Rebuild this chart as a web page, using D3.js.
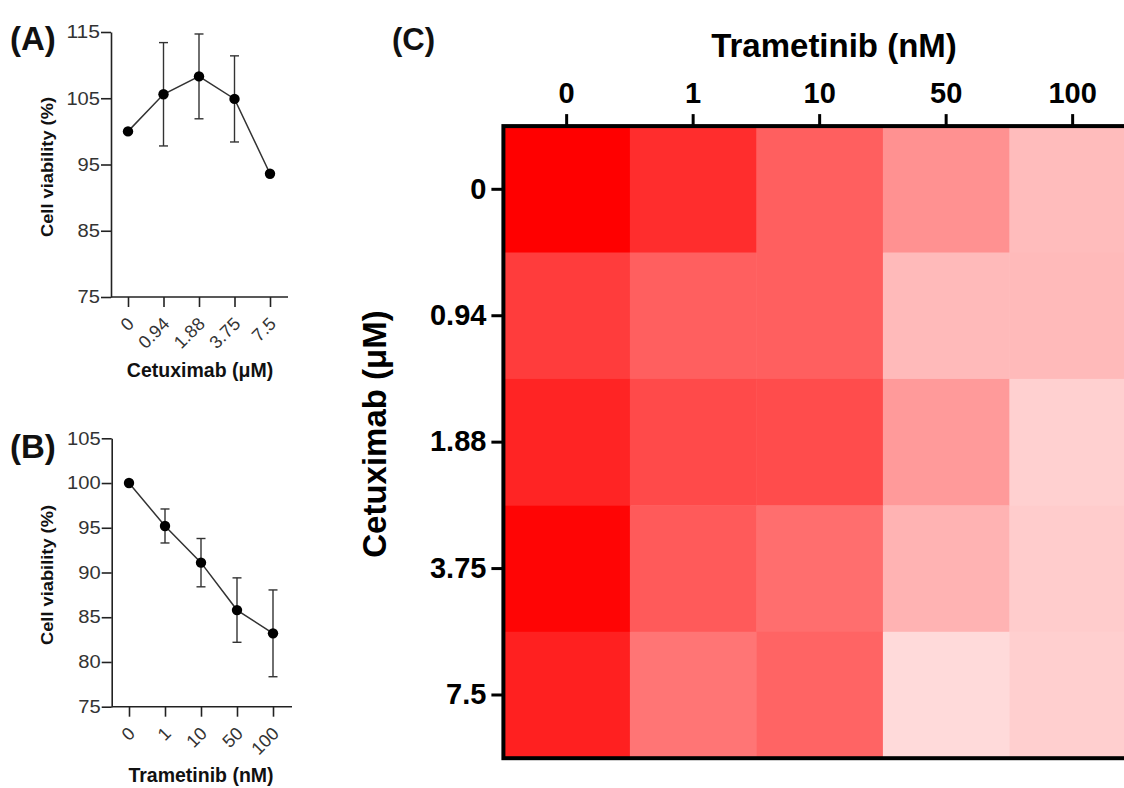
<!DOCTYPE html>
<html>
<head>
<meta charset="utf-8">
<script src="https://cdn.jsdelivr.net/npm/d3@7"></script>
<style>
  html, body { margin: 0; padding: 0; background: #ffffff; }
  svg { display: block; font-family: "Liberation Sans", Arial, sans-serif; }
</style>
</head>
<body>
<svg id="chart" width="1124" height="788"></svg>
<script>
// ---------- data ----------
const cetuxDoses = ["0", "0.94", "1.88", "3.75", "7.5"];
const cetuxMean = [100, 105.6, 108.3, 104.9, 93.6];
const cetuxSD   = [0, 7.8, 6.4, 6.5, 0];
const cetuxTicks = [75, 85, 95, 105, 115];

const tramDoses = ["0", "1", "10", "50", "100"];
const tramMean = [100, 95.2, 91.1, 85.8, 83.2];
const tramSD   = [0, 1.9, 2.7, 3.6, 4.85];
const tramTicks = [75, 80, 85, 90, 95, 100, 105];

// heatmap: rows = cetuximab doses, columns = trametinib doses (colour intensity, %)
const heatRow0    = [100, 82.4, 62.7, 43.1, 26.3];
const heatRow094  = [76.5, 62.7, 62.7, 27.1, 27.1];
const heatRow188  = [85.9, 71.0, 70.2, 39.6, 18.4];
const heatRow375  = [98.0, 64.7, 56.9, 29.8, 20.0];
const heatRow75   = [87.5, 54.1, 60.8, 14.5, 18.8];
const heatRows = [heatRow0, heatRow094, heatRow188, heatRow375, heatRow75];

// ---------- drawing ----------
const svg = d3.select("#chart");
const ink = "#222";

function linePanel(opts) {
  const g = svg.append("g");
  const x = d3.scalePoint().domain(opts.doses).range(opts.xRange);
  const y = d3.scaleLinear().domain(opts.yDomain).range(opts.yRange);

  // y axis
  const ya = g.append("g").attr("transform", `translate(${opts.axisX},0)`)
    .call(d3.axisLeft(y).tickValues(opts.ticks).tickSize(10).tickSizeOuter(0).tickPadding(1));
  ya.select(".domain").attr("stroke", ink).attr("stroke-width", 1.6);
  ya.selectAll(".tick line").attr("stroke", ink).attr("stroke-width", 1.6);
  ya.selectAll(".tick text").attr("fill", "#333").style("font-size", "18px")
    .attr("font-family", "Liberation Sans, Arial, sans-serif")
    .attr("textLength", d => String(d).length * 11.2).attr("lengthAdjust", "spacingAndGlyphs");

  // x axis
  const xa = g.append("g").attr("transform", `translate(0,${opts.axisY})`)
    .call(d3.axisBottom(x).tickSize(10).tickSizeOuter(0));
  xa.select(".domain").remove();
  xa.selectAll(".tick line").attr("stroke", ink).attr("stroke-width", 1.6);
  xa.selectAll(".tick text").remove();
  g.append("line").attr("x1", opts.axisX).attr("x2", opts.xEnd)
    .attr("y1", opts.axisY).attr("y2", opts.axisY)
    .attr("stroke", ink).attr("stroke-width", 1.6);

  g.selectAll(".xl").data(opts.doses).enter().append("text")
    .attr("transform", d => `translate(${x(d) + 7},${opts.axisY + 28}) rotate(-45)`)
    .attr("text-anchor", "end").attr("fill", "#333").style("font-size", "18px")
    .text(d => d);

  // error bars
  const data = opts.doses.map((d, i) => ({ d, m: opts.mean[i], s: opts.sd[i] }));
  const eb = g.selectAll(".eb").data(data.filter(p => p.s > 0)).enter().append("g");
  eb.append("line").attr("x1", p => x(p.d)).attr("x2", p => x(p.d))
    .attr("y1", p => y(p.m - p.s)).attr("y2", p => y(p.m + p.s))
    .attr("stroke", "#333").attr("stroke-width", 1.4);
  [1, -1].forEach(sg => {
    eb.append("line").attr("x1", p => x(p.d) - 4.5).attr("x2", p => x(p.d) + 4.5)
      .attr("y1", p => y(p.m + sg * p.s)).attr("y2", p => y(p.m + sg * p.s))
      .attr("stroke", "#333").attr("stroke-width", 1.4);
  });

  // line + points
  g.append("path").datum(data)
    .attr("d", d3.line().x(p => x(p.d)).y(p => y(p.m)))
    .attr("fill", "none").attr("stroke", "#333").attr("stroke-width", 1.5);
  g.selectAll(".pt").data(data).enter().append("circle")
    .attr("cx", p => x(p.d)).attr("cy", p => y(p.m)).attr("r", 5.2).attr("fill", "#000");

  // titles
  g.append("text")
    .attr("transform", `translate(53,${opts.yLabelY}) rotate(-90)`)
    .attr("text-anchor", "middle").attr("font-weight", "bold").style("font-size", "16.5px")
    .attr("textLength", 140).attr("lengthAdjust", "spacingAndGlyphs")
    .attr("fill", "#111").text("Cell viability (%)");
  g.append("text").attr("x", opts.xLabelX).attr("y", opts.xLabelY)
    .attr("text-anchor", "middle").attr("font-weight", "bold").style("font-size", "19.5px")
    .attr("fill", "#111").text(opts.xLabel);
  g.append("text").attr("x", 10).attr("y", opts.letterY)
    .attr("font-weight", "bold").style("font-size", "33px").attr("fill", "#111")
    .text(opts.letter);
}

linePanel({
  doses: cetuxDoses, mean: cetuxMean, sd: cetuxSD, ticks: cetuxTicks,
  xRange: [128, 270], yDomain: [75, 115], yRange: [297, 32],
  axisX: 111, axisY: 297, xEnd: 288,
  yLabelY: 167, xLabelX: 200, xLabelY: 377, xLabel: "Cetuximab (μM)",
  letter: "(A)", letterY: 50
});

linePanel({
  doses: tramDoses, mean: tramMean, sd: tramSD, ticks: tramTicks,
  xRange: [129, 273], yDomain: [75, 105], yRange: [706.7, 438.3],
  axisX: 111.7, axisY: 706.7, xEnd: 292,
  yLabelY: 575, xLabelX: 201, xLabelY: 782, xLabel: "Trametinib (nM)",
  letter: "(B)", letterY: 458
});

// ---------- heatmap ----------
const hx = d3.scaleBand().domain(tramDoses).range([503.4, 1135.9]);
const hy = d3.scaleBand().domain(cetuxDoses).range([126.1, 758.2]);
const color = d3.scaleLinear().domain([0, 100]).range(["#ffffff", "#ff0000"]);

const hg = svg.append("g");
cetuxDoses.forEach((r, i) => {
  hg.selectAll(".c" + i).data(tramDoses).enter().append("rect")
    .attr("x", c => hx(c)).attr("y", hy(r))
    .attr("width", hx.bandwidth() + 0.5).attr("height", hy.bandwidth() + 0.5)
    .attr("fill", (c, j) => color(heatRows[i][j]));
});
hg.append("rect").attr("x", hx.range()[0]).attr("y", hy.range()[0])
  .attr("width", hx.range()[1] - hx.range()[0]).attr("height", hy.range()[1] - hy.range()[0])
  .attr("fill", "none").attr("stroke", "#000").attr("stroke-width", 4);

const ta = hg.append("g").attr("transform", `translate(0,${hy.range()[0]})`)
  .call(d3.axisTop(hx).tickSize(12).tickPadding(11));
ta.select(".domain").remove();
ta.selectAll(".tick line").attr("stroke", "#000").attr("stroke-width", 3);
ta.selectAll(".tick text").attr("fill", "#000").attr("font-weight", "bold")
  .style("font-size", "29px").attr("font-family", "Liberation Sans, Arial, sans-serif");

const la = hg.append("g").attr("transform", `translate(${hx.range()[0]},0)`)
  .call(d3.axisLeft(hy).tickSize(12).tickPadding(5));
la.select(".domain").remove();
la.selectAll(".tick line").attr("stroke", "#000").attr("stroke-width", 3);
la.selectAll(".tick text").attr("fill", "#000").attr("font-weight", "bold")
  .style("font-size", "29px").attr("font-family", "Liberation Sans, Arial, sans-serif");

hg.append("text").attr("x", 834).attr("y", 57).attr("text-anchor", "middle")
  .attr("font-weight", "bold").style("font-size", "33px").attr("fill", "#000")
  .text("Trametinib (nM)");
hg.append("text").attr("transform", "translate(386,434) rotate(-90)")
  .attr("text-anchor", "middle").attr("font-weight", "bold").style("font-size", "33px")
  .attr("fill", "#000").text("Cetuximab (μM)");
hg.append("text").attr("x", 392).attr("y", 50)
  .attr("font-weight", "bold").style("font-size", "31px").attr("fill", "#111").text("(C)");
</script>
</body>
</html>
